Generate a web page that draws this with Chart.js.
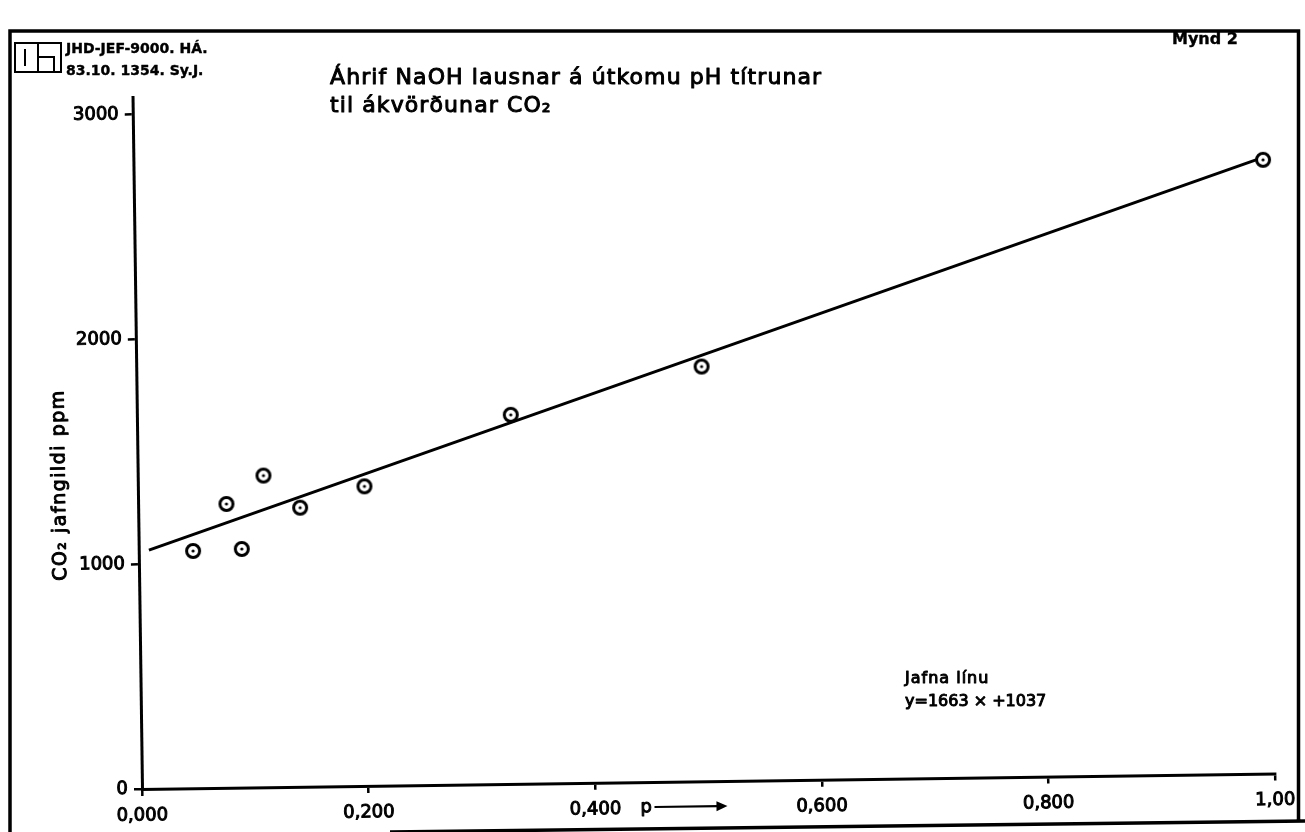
<!DOCTYPE html>
<html>
<head>
<meta charset="utf-8">
<title>Mynd 2</title>
<script src="https://cdn.jsdelivr.net/npm/chart.js@4.4.1/dist/chart.umd.min.js"></script>
<style>
  html, body { margin: 0; padding: 0; background: #fff; }
</style>
</head>
<body>
<canvas id="chart" width="1305" height="832"></canvas>
<script>
// Tick marks on the two axes
const xTickValues = [0, 0.2, 0.4, 0.6, 0.8, 1.0];
const xTickLabels = ['0,000', '0,200', '0,400', '0,600', '0,800', '1,00'];
const yTickValues = [0, 1000, 2000, 3000];
const yTickLabels = ['0', '1000', '2000', '3000'];

// Measured samples: p and CO2 equivalent (ppm)
const sampleP = [0.048, 0.078, 0.091, 0.111, 0.143, 0.200, 0.330, 0.499, 0.997];
const sampleCO2 = [1055, 1262, 1061, 1386, 1241, 1332, 1641, 1844, 2729];

// End points of the fitted line as drawn on the sheet
const fitP = [0.009, 0.997];
const fitCO2 = [1062, 2740];

const kFont = "'DejaVu Sans', sans-serif";
// The scanned sheet is slightly skewed
const kTilt = -0.0137;

function letter(ctx, str, x, y, size, opts = {}) {
    const { weight = 'normal', align = 'left', spacing = 0, stroke = 1 } = opts;
    ctx.font = `${weight} ${size}px ${kFont}`;
    ctx.letterSpacing = `${spacing}px`;
    ctx.textAlign = align;
    ctx.textBaseline = 'alphabetic';
    ctx.fillStyle = '#000';
    ctx.strokeStyle = '#000';
    ctx.lineWidth = stroke;
    ctx.lineJoin = 'round';
    ctx.fillText(str, x, y);
    ctx.strokeText(str, x, y);
    ctx.letterSpacing = '0px';
}

// Circle with a dot in the middle
function markerImage() {
    const c = document.createElement('canvas');
    c.width = 22;
    c.height = 22;
    const g = c.getContext('2d');
    g.lineWidth = 3;
    g.strokeStyle = '#000';
    g.fillStyle = '#fff';
    g.beginPath();
    g.arc(11, 11, 6.5, 0, Math.PI * 2);
    g.fill();
    g.stroke();
    g.fillStyle = '#000';
    g.beginPath();
    g.arc(11, 11, 1.6, 0, Math.PI * 2);
    g.fill();
    return c;
}

const sheet = {
    id: 'sheet',
    beforeDraw(chart) {
        const ctx = chart.ctx;
        const { left, bottom } = chart.chartArea;
        ctx.save();
        ctx.translate(left, bottom);
        ctx.rotate(kTilt);
        ctx.translate(-left, -bottom);
    },
    afterDraw(chart) {
        const ctx = chart.ctx;
        const area = chart.chartArea;
        const xs = chart.scales.x;

        // axis name
        ctx.save();
        ctx.translate(69, 484);
        ctx.rotate(-Math.PI / 2);
        letter(ctx, 'CO₂ jafngildi ppm', 0, 0, 19, { align: 'center', spacing: 1.5 });
        ctx.restore();

        // "p -->" next to 0,400
        const px = xs.getPixelForValue(0.4) + 45;
        const py = area.bottom + 24;
        letter(ctx, 'p', px, py + 6, 18);
        ctx.beginPath();
        ctx.lineWidth = 2.2;
        ctx.moveTo(px + 14, py + 1);
        ctx.lineTo(px + 78, py + 1);
        ctx.stroke();
        ctx.beginPath();
        ctx.moveTo(px + 87, py + 1);
        ctx.lineTo(px + 76, py - 4);
        ctx.lineTo(px + 76, py + 6);
        ctx.closePath();
        ctx.fill();

        ctx.restore();

        // sheet frame
        ctx.strokeStyle = '#000';
        ctx.lineWidth = 3.5;
        ctx.beginPath();
        ctx.moveTo(10, 832);
        ctx.lineTo(10, 31);
        ctx.lineTo(1298.5, 31);
        ctx.lineTo(1298.5, 822);
        ctx.moveTo(390, 832);
        ctx.lineTo(1305, 821);
        ctx.stroke();

        // stamp
        ctx.lineWidth = 2;
        ctx.strokeRect(15, 43, 46, 29);
        ctx.beginPath();
        ctx.moveTo(38, 43);
        ctx.lineTo(38, 72);
        ctx.moveTo(25, 49);
        ctx.lineTo(25, 66);
        ctx.moveTo(38, 57);
        ctx.lineTo(54, 57);
        ctx.lineTo(54, 72);
        ctx.stroke();

        letter(ctx, 'JHD-JEF-9000. HÁ.', 66, 53, 14, { weight: 'bold', stroke: 0.4 });
        letter(ctx, '83.10. 1354. Sy.J.', 66, 75, 14, { weight: 'bold', stroke: 0.4 });
        letter(ctx, 'Mynd 2', 1172, 44, 16, { weight: 'bold', stroke: 0.4 });

        letter(ctx, 'Áhrif NaOH lausnar á útkomu pH títrunar', 330, 84, 22, { spacing: 1.1 });
        letter(ctx, 'til ákvörðunar CO₂', 330, 112, 22, { spacing: 1.1 });

        letter(ctx, 'Jafna línu', 905, 683, 16, { spacing: 1 });
        letter(ctx, 'y=1663 × +1037', 905, 706, 16);
    }
};

const tickFont = { family: kFont, size: 18 };

const chart = new Chart(
    document.getElementById('chart'),
    {
        type: 'scatter',
        data: {
            datasets: [
                {
                    label: 'Mælingar',
                    data: sampleP.map((p, i) => ({ x: p, y: sampleCO2[i] })),
                    pointStyle: markerImage(),
                    pointRadius: 7,
                    clip: false,
                    order: 0,
                },
                {
                    label: 'Jafna línu',
                    data: fitP.map((p, i) => ({ x: p, y: fitCO2[i] })),
                    showLine: true,
                    borderColor: '#000',
                    borderWidth: 3,
                    pointRadius: 0,
                    clip: false,
                    order: 1,
                },
            ]
        },
        options: {
            responsive: false,
            animation: false,
            layout: {
                padding: { left: 0, right: 30, top: 97, bottom: 0 },
            },
            scales: {
                x: {
                    type: 'linear',
                    min: 0,
                    max: 1,
                    afterBuildTicks: (s) => { s.ticks = xTickValues.map(v => ({ value: v })); },
                    afterFit: (s) => { s.height = 43; },
                    ticks: {
                        callback: (v, i) => xTickLabels[i],
                        color: '#000',
                        font: tickFont,
                        padding: 9,
                        maxRotation: 0,
                        autoSkip: false,
                        textStrokeColor: '#000',
                        textStrokeWidth: 1,
                    },
                    grid: { drawOnChartArea: false, tickLength: 7, color: '#000', lineWidth: 2.5 },
                    border: { color: '#000', width: 3 },
                },
                y: {
                    type: 'linear',
                    min: 0,
                    max: 3077,
                    afterBuildTicks: (s) => { s.ticks = yTickValues.map(v => ({ value: v })); },
                    afterFit: (s) => { s.width = 142; },
                    ticks: {
                        callback: (v, i) => yTickLabels[i],
                        color: '#000',
                        font: tickFont,
                        padding: 6,
                        textStrokeColor: '#000',
                        textStrokeWidth: 1,
                    },
                    grid: { drawOnChartArea: false, tickLength: 8, color: '#000', lineWidth: 2.5 },
                    border: { color: '#000', width: 3 },
                },
            },
            plugins: {
                legend: { display: false },
                tooltip: { enabled: false },
            }
        },
        plugins: [sheet],
    }
);
</script>
</body>
</html>
